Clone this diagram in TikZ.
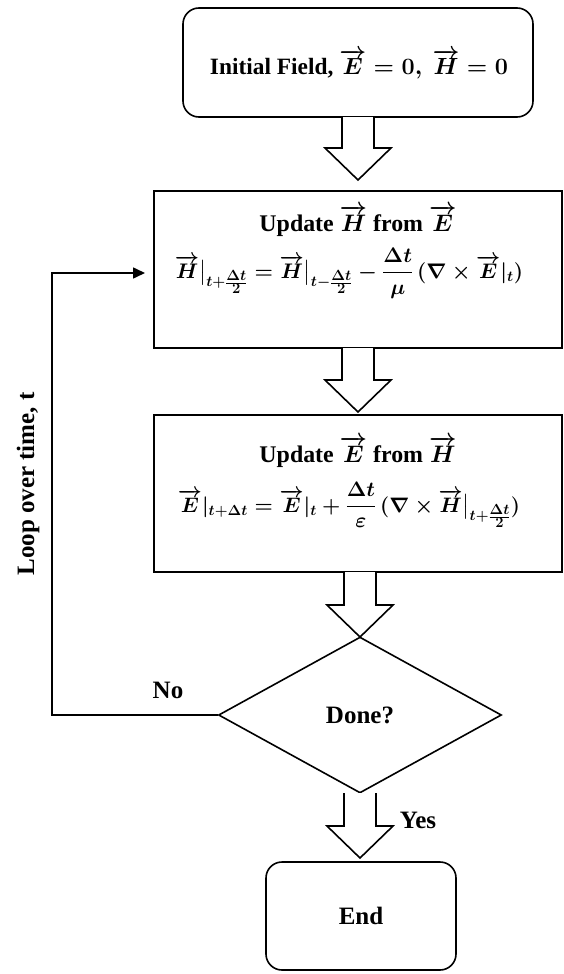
\RequirePackage{fix-cm}
\documentclass[tikz,border=0pt]{standalone}
\usepackage{amsmath}
\usepackage{graphicx}
\usepackage[no-math]{fontspec}
\setmainfont{Liberation Serif}
\usetikzlibrary{shapes.geometric,calc,arrows.meta}
\newcommand\VecE{\overrightarrow{E}}
\newcommand\VecH{\overrightarrow{H}}
\newcommand\halfdt{\frac{\scriptstyle\Delta t}{\scriptstyle 2}}
\newcommand\barrow[2]{%
  \draw[blockarr] ($(#1)+(-16,0)$) -- ($(#2)+(-16,-32)$) -- ($(#2)+(-33,-32)$) -- (#2)
    -- ($(#2)+(33,-32)$) -- ($(#2)+(16,-32)$) -- ($(#1)+(16,0)$);}
\begin{document}
\begin{tikzpicture}[x=1pt,y=-1pt,
  font=\fontsize{25}{30}\selectfont\bfseries\boldmath,
  line width=1.6pt,
  rbox/.style={draw, rounded corners=16pt, inner sep=0pt},
  sbox/.style={draw, inner sep=0pt, minimum width=408pt, minimum height=157pt},
  decision/.style={draw, diamond, inner sep=0pt, minimum width=283pt, minimum height=156pt},
  blockarr/.style={draw, line width=1.6pt, line join=miter, fill=white},
  loopline/.style={draw, line width=1.6pt, -{Triangle[length=12pt,width=11pt]}},
  lbl/.style={inner sep=0pt}]
\useasboundingbox (0,0) rectangle (563,974);

\node[rbox, minimum width=350pt, minimum height=109pt] (init) at (358,62.5) {};
\node[lbl] (initt) at (359,64) {\resizebox{298pt}{!}{Initial Field, $\VecE = 0,\ \VecH = 0$}};

\node[sbox] (uh) at (358,269.5) {};
\node[lbl] (uht) at (358,221) {\resizebox{197pt}{!}{Update $\VecH$ from $\VecE$}};
\node[lbl] (uhf) at (349,273) {\resizebox{348pt}{!}{$\VecH\big\vert_{t+\halfdt} = \VecH\big\vert_{t-\halfdt} - \dfrac{\Delta t}{\mu}\,(\nabla\times\VecE\vert_{t})$}};

\node[sbox] (ue) at (358,493.5) {};
\node[lbl] (uet) at (358,452) {\resizebox{197pt}{!}{Update $\VecE$ from $\VecH$}};
\node[lbl] (uef) at (349,505) {\resizebox{342pt}{!}{$\VecE\vert_{t+\Delta t} = \VecE\vert_{t} + \dfrac{\Delta t}{\varepsilon}\,(\nabla\times\VecH\big\vert_{t+\halfdt})$}};

\node[decision] (done) at (360,715) {Done?};

\node[rbox, minimum width=190pt, minimum height=108pt] (end) at (361,916) {End};

\coordinate (a1s) at (358,117);
\coordinate (a1e) at (358,180);
\barrow{a1s}{a1e}
\coordinate (a2s) at (358,348);
\coordinate (a2e) at (358,412);
\barrow{a2s}{a2e}
\coordinate (a3s) at (360,572);
\coordinate (a3e) at (360,637);
\barrow{a3s}{a3e}
\coordinate (a4s) at (360,793);
\coordinate (a4e) at (360,858);
\barrow{a4s}{a4e}

\coordinate (lpb) at (52,715);
\coordinate (lpt) at (52,273);
\coordinate (lpe) at (145,273);
\draw[loopline] (done.west) -- (lpb) -- (lpt) -- (lpe);

\node[lbl] (no) at (168,690) {No};
\node[lbl] (yes) at (418,820) {Yes};
\node[lbl, rotate=90] (loop) at (28,484) {Loop over time, t};
\end{tikzpicture}
\end{document}
